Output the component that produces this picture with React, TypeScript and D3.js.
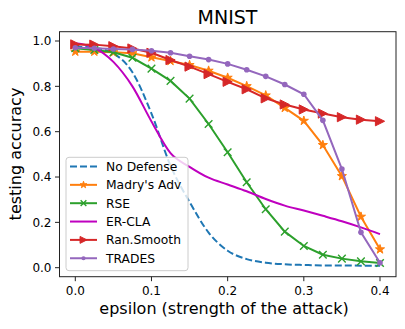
import React from "react";
import * as d3 from "d3";

const eps = [0, 0.025, 0.05, 0.075, 0.1, 0.125, 0.15, 0.175, 0.2, 0.225, 0.25, 0.275, 0.3, 0.325, 0.35, 0.375, 0.4];
const noDefense = [0.975, 0.97, 0.945, 0.862, 0.68, 0.45, 0.29, 0.155, 0.075, 0.038, 0.022, 0.015, 0.012, 0.01, 0.01, 0.009, 0.009];
const madry = [0.953, 0.953, 0.95, 0.946, 0.928, 0.912, 0.894, 0.869, 0.838, 0.801, 0.76, 0.705, 0.648, 0.541, 0.404, 0.225, 0.081];
const rse = [0.968, 0.96, 0.95, 0.926, 0.878, 0.824, 0.746, 0.634, 0.509, 0.377, 0.258, 0.159, 0.096, 0.057, 0.04, 0.028, 0.021];
const erCla = [0.99, 0.97, 0.908, 0.8, 0.645, 0.505, 0.445, 0.397, 0.367, 0.337, 0.303, 0.274, 0.252, 0.229, 0.205, 0.178, 0.148];
const ranSmooth = [0.985, 0.984, 0.977, 0.967, 0.948, 0.916, 0.887, 0.854, 0.82, 0.787, 0.747, 0.72, 0.698, 0.68, 0.664, 0.653, 0.646];
const trades = [0.97, 0.968, 0.965, 0.963, 0.957, 0.948, 0.933, 0.918, 0.899, 0.873, 0.844, 0.808, 0.765, 0.65, 0.435, 0.156, 0.022];

const xTicks = [0, 0.1, 0.2, 0.3, 0.4];
const yTicks = [0, 0.2, 0.4, 0.6, 0.8, 1.0];

type Marker = "none" | "star" | "x" | "tri" | "dot";
interface Series { name: string; values: number[]; color: string; dash?: string; marker: Marker; smooth?: boolean }

const series: Series[] = [
  { name: "No Defense", values: noDefense, color: "#1f77b4", dash: "7,3", marker: "none", smooth: true },
  { name: "Madry's Adv", values: madry, color: "#ff7f0e", marker: "star" },
  { name: "RSE", values: rse, color: "#2ca02c", marker: "x" },
  { name: "ER-CLA", values: erCla, color: "#bf00bf", marker: "none", smooth: true },
  { name: "Ran.Smooth", values: ranSmooth, color: "#d62728", marker: "tri" },
  { name: "TRADES", values: trades, color: "#9467bd", marker: "dot" },
];

const left = 59.5, right = 396, top = 31.7, bottom = 276.7;
const x = d3.scaleLinear().domain([0, 0.4]).range([75.3, 380]);
const y = d3.scaleLinear().domain([0, 1]).range([267.7, 41]);

function starPath(r: number) {
  const pts: string[] = [];
  for (let i = 0; i < 10; i++) {
    const rr = i % 2 === 0 ? r : r * 0.382;
    const a = -Math.PI / 2 + (i * Math.PI) / 5;
    pts.push(`${(rr * Math.cos(a)).toFixed(2)},${(rr * Math.sin(a)).toFixed(2)}`);
  }
  return "M" + pts.join("L") + "Z";
}

function MarkerShape({ m, cx, cy, color, s = 1 }: { m: Marker; cx: number; cy: number; color: string; s?: number }) {
  if (m === "star") return <path d={starPath(4.8 * s)} transform={`translate(${cx},${cy})`} fill={color} stroke={color} strokeWidth={1} />;
  if (m === "x") {
    const r = 3.8 * s;
    return <path d={`M${-r},${-r}L${r},${r}M${-r},${r}L${r},${-r}`} transform={`translate(${cx},${cy})`} stroke={color} strokeWidth={1.4} fill="none" />;
  }
  if (m === "tri") {
    const r = 4.6 * s;
    return <path d={`M${-r},${-r}L${r},0L${-r},${r}Z`} transform={`translate(${cx},${cy})`} fill={color} stroke={color} strokeWidth={1} />;
  }
  if (m === "dot") return <circle cx={cx} cy={cy} r={2.8 * s} fill={color} />;
  return null;
}

export default function App() {
  const font = "DejaVu Sans, sans-serif";
  return (
    <svg width={405} height={329} style={{ position: "absolute", left: 0, top: 0 }} fontFamily={font}>
      <rect width={405} height={329} fill="white" />
      <defs>
        <clipPath id="plotclip"><rect x={left} y={top} width={right - left} height={bottom - top} /></clipPath>
      </defs>
      <g clipPath="url(#plotclip)">
        {series.map((s) => {
          const line = d3.line<number>().x((_, i) => x(eps[i])).y((v) => y(v));
          if (s.smooth) line.curve(d3.curveMonotoneX);
          return (
            <g key={s.name}>
              <path d={line(s.values) || ""} fill="none" stroke={s.color} strokeWidth={2} strokeDasharray={s.dash} />
              {s.marker !== "none" && s.values.map((v, i) => <MarkerShape key={i} m={s.marker} cx={x(eps[i])} cy={y(v)} color={s.color} />)}
            </g>
          );
        })}
      </g>
      <rect x={left} y={top} width={right - left} height={bottom - top} fill="none" stroke="#222" strokeWidth={1} />
      {xTicks.map((t) => (
        <g key={t}>
          <line x1={x(t)} x2={x(t)} y1={bottom} y2={bottom + 4.5} stroke="#222" />
          <text x={x(t)} y={bottom + 18} fontSize={12} textAnchor="middle">{t.toFixed(1)}</text>
        </g>
      ))}
      {yTicks.map((t) => (
        <g key={t}>
          <line x1={left - 4.5} x2={left} y1={y(t)} y2={y(t)} stroke="#222" />
          <text x={left - 8} y={y(t) + 4.3} fontSize={12} textAnchor="end">{t.toFixed(1)}</text>
        </g>
      ))}
      <text x={227.5} y={24} fontSize={19} textAnchor="middle">MNIST</text>
      <text x={224} y={314} fontSize={16} textAnchor="middle">epsilon (strength of the attack)</text>
      <text transform={`translate(21,154) rotate(-90)`} fontSize={16} textAnchor="middle">testing accuracy</text>
      <g>
        <rect x={66} y={157.3} width={122} height={113.4} rx={3} fill="white" fillOpacity={0.8} stroke="#ccc" strokeWidth={1} />
        {series.map((s, i) => {
          const cy = 166.5 + i * 18.35;
          return (
            <g key={s.name}>
              <line x1={70} x2={97} y1={cy} y2={cy} stroke={s.color} strokeWidth={2} strokeDasharray={s.dash} />
              {s.marker !== "none" && <MarkerShape m={s.marker} cx={83.5} cy={cy} color={s.color} s={0.75} />}
              <text x={106} y={cy + 4.4} fontSize={12.3}>{s.name}</text>
            </g>
          );
        })}
      </g>
    </svg>
  );
}
